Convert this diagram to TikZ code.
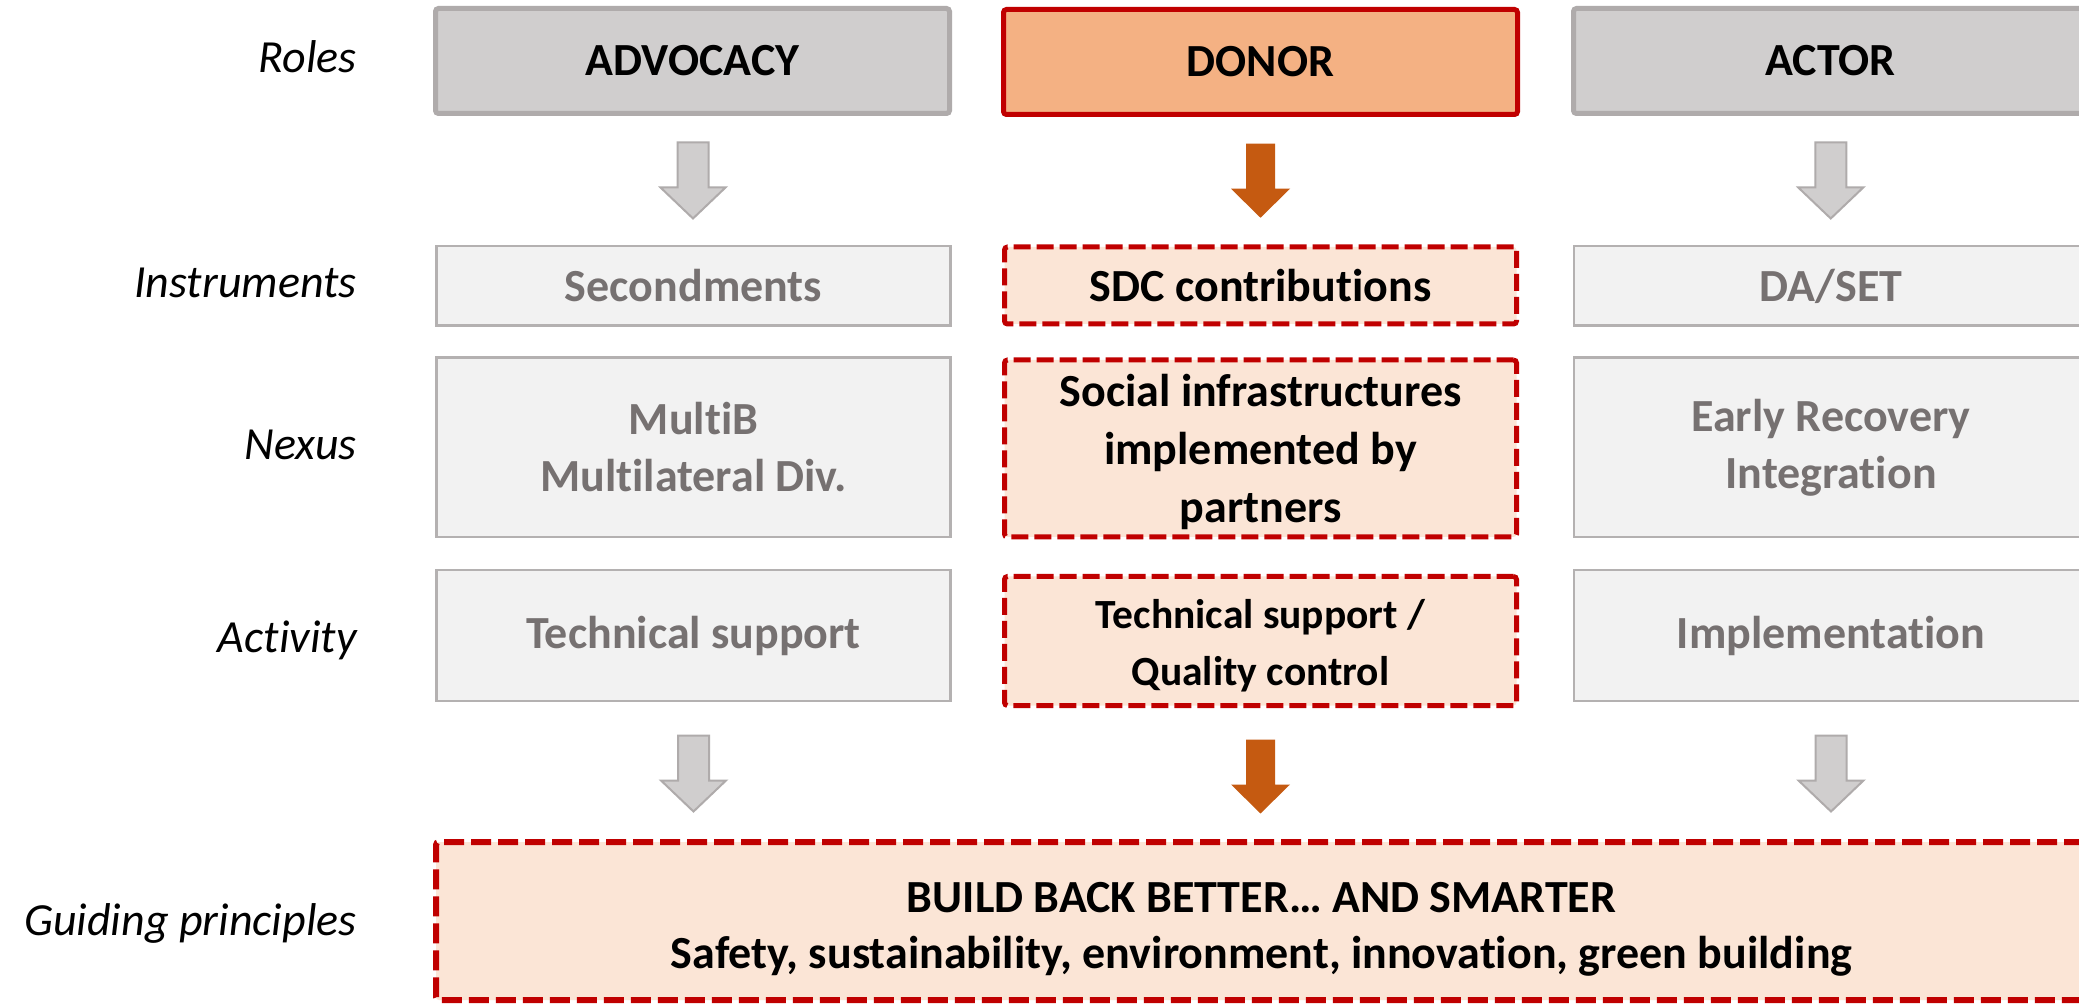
\documentclass[tikz,border=0pt]{standalone}
\usepackage{fontspec}
\setmainfont{Carlito}[Ligatures={NoCommon}]
\usetikzlibrary{calc}
\definecolor{rolefill}{HTML}{D0CECE}
\definecolor{roleline}{HTML}{AFABAB}
\definecolor{donorfill}{HTML}{F4B183}
\definecolor{sdcred}{HTML}{C00000}
\definecolor{lightfill}{HTML}{F2F2F2}
\definecolor{lightline}{HTML}{B4B1B1}
\definecolor{graytext}{HTML}{767171}
\definecolor{peach}{HTML}{FBE5D6}
\definecolor{arrorange}{HTML}{C55A11}
\begin{document}
\begin{tikzpicture}[x=0.5pt,y=-0.5pt,
  bigfont/.style={font=\fontsize{23}{28.5}\selectfont\bfseries},
  rowlabel/.style={font=\fontsize{23}{28.5}\selectfont\itshape, anchor=base east, inner sep=0pt},
  rolebox/.style={draw=roleline, fill=rolefill, line width=2.5pt, minimum width=257pt, minimum height=52.5pt, bigfont, inner sep=0pt, rounded corners=1.5pt},
  donorbox/.style={rolebox, draw=sdcred, fill=donorfill},
  lightbox/.style={draw=lightline, fill=lightfill, line width=1.25pt, minimum width=257pt, text=graytext, bigfont, align=center, inner sep=0pt},
  dashbox/.style={draw=sdcred, fill=peach, line width=2.5pt, dash pattern=on 8.5pt off 3pt, minimum width=256pt, bigfont, align=center, inner sep=0pt, rounded corners=1.5pt},
  boxtext/.style={inner sep=0pt, align=center},
  pics/grayarr/.style={code={\draw[line width=1pt, draw=roleline, fill=rolefill, line join=miter] (-15.5,-38) -- (15.5,-38) -- (15.5,7) -- (32.5,7) -- (0,38) -- (-32.5,7) -- (-15.5,7) -- cycle;}},
  pics/orgarr/.style={code={\fill[arrorange] (-14.5,-37) -- (14.5,-37) -- (14.5,8) -- (29.5,8) -- (0,37) -- (-29.5,8) -- (-14.5,8) -- cycle;}}
]
\useasboundingbox (0,0) rectangle (2079,1005);
\clip (0,0) rectangle (2079,1005);
\fill[white] (0,0) rectangle (2079,1005);

% row labels
\node[rowlabel] (lroles) at (357,73) {Roles};
\node[rowlabel] (linst) at (357,298) {Instruments};
\node[rowlabel] (lnex) at (357,460) {Nexus};
\node[rowlabel] (lact) at (357,653) {Activity};
\node[rowlabel] (lgui) at (357,935) {Guiding principles};

% roles
\node[rolebox] (adv) at (692.5,61) {ADVOCACY};
\node[donorbox] (don) at (1260.5,62) {DONOR};
\node[rolebox] (act) at (1830.5,61) {ACTOR};

% instruments
\node[lightbox, minimum height=39.75pt] (sec) at (693.5,286) {Secondments};
\node[dashbox, minimum height=38.5pt] (sdc) at (1260.5,285.5) {SDC contributions};
\node[lightbox, minimum height=39.75pt] (das) at (1831,286) {DA/SET};

% nexus
\node[lightbox, minimum height=89.75pt] (mul) at (693.5,447.5) {MultiB\\Multilateral Div.};
\node[dashbox, minimum height=88.5pt] (soc) at (1260.5,448.5) {};
\node[boxtext, font=\fontsize{23}{29}\selectfont\bfseries] (soctxt) at ($(soc.center)+(0,3)$) {Social infrastructures\\implemented by\\partners};
\node[lightbox, minimum height=89.75pt] (ear) at (1831,447.5) {Early Recovery\\Integration};

% activity
\node[lightbox, minimum height=65.25pt] (tsl) at (693.5,635.5) {Technical support};
\node[dashbox, minimum height=64.5pt] (tsm) at (1260.5,641) {};
\node[boxtext, font=\fontsize{20.75}{28.5}\selectfont\bfseries] (tsmtxt) at ($(tsm.center)+(0,5)$) {Technical support /\\Quality control};
\node[lightbox, minimum height=65.25pt] (imp) at (1831,635.5) {Implementation};

% guiding principles
\node[dashbox, line width=3pt, dash pattern=on 10pt off 3.5pt, minimum width=825.5pt, minimum height=79pt] (gui) at (1261.5,921) {};
\node[boxtext, font=\fontsize{23}{28}\selectfont\bfseries] (guitxt) at ($(gui.center)+(0,8)$) {BUILD BACK BETTER… AND SMARTER\\Safety, sustainability, environment, innovation, green building};

% block arrows
\pic at ($(adv.south)!0.5!(sec.north)$) {grayarr};
\pic at ($(don.south)!0.5!(sdc.north)$) {orgarr};
\pic at ($(act.south)!0.5!(das.north)$) {grayarr};
\pic at ($($(tsl.south)!0.5!(tsl.south |- gui.north)$)+(0,3)$) {grayarr};
\pic at ($($(tsm.south)!0.5!(tsm.south |- gui.north)$)+(0,3)$) {orgarr};
\pic at ($($(imp.south)!0.5!(imp.south |- gui.north)$)+(0,3)$) {grayarr};
\end{tikzpicture}
\end{document}
